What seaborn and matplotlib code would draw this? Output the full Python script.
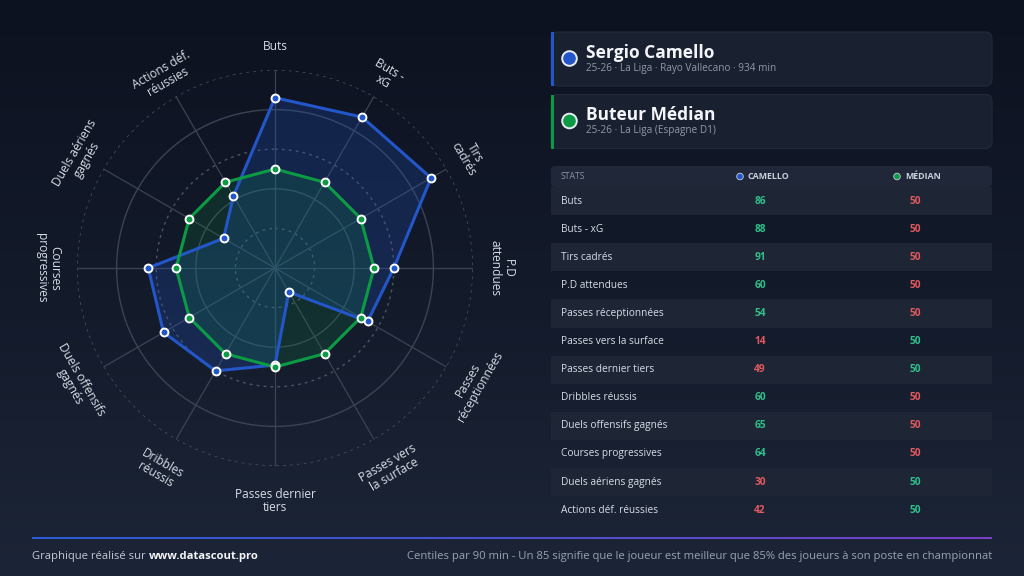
import numpy as np
import pandas as pd
import matplotlib
matplotlib.use("Agg")
import matplotlib.pyplot as plt
import seaborn as sns
from matplotlib.patches import FancyBboxPatch, Rectangle, Circle
from matplotlib.colors import LinearSegmentedColormap

# ---------------- data ----------------
categories = ["Buts", "Buts - xG", "Tirs cadrés", "P.D attendues", "Passes réceptionnées",
              "Passes vers la surface", "Passes dernier tiers", "Dribbles réussis",
              "Duels offensifs gagnés", "Courses progressives", "Duels aériens gagnés",
              "Actions déf. réussies"]
radar_labels = ["Buts", "Buts -\nxG", "Tirs\ncadrés", "P.D\nattendues", "Passes\nréceptionnées",
                "Passes vers\nla surface", "Passes dernier\ntiers", "Dribbles\nréussis",
                "Duels offensifs\ngagnés", "Courses\nprogressives", "Duels aériens\ngagnés",
                "Actions déf.\nréussies"]
camello = [86, 88, 91, 60, 54, 14, 49, 60, 65, 64, 30, 42]
median = [50, 50, 50, 50, 50, 50, 50, 50, 50, 50, 50, 50]

player_name = "Sergio Camello"
player_sub = "25-26 · La Liga · Rayo Vallecano · 934 min"
ref_name = "Buteur Médian"
ref_sub = "25-26 · La Liga (Espagne D1)"
col_headers = ["STATS", "CAMELLO", "MÉDIAN"]
footer_left = "Graphique réalisé sur "
footer_link = "www.datascout.pro"
footer_right = ("Centiles par 90 min - Un 85 signifie que le joueur est meilleur que 85% "
                "des joueurs à son poste en championnat")

# ---------------- style ----------------
sns.set_style("white")
plt.rcParams['font.family'] = ['Open Sans', 'DejaVu Sans']

BLUE = "#2356c8"
GREEN = "#0c9a45"
GOOD = "#2fc08a"
BAD = "#e2595e"
TXT = "#d8dde6"
SUB = "#9099a8"

W, H = 1024, 576
fig = plt.figure(figsize=(W / 100, H / 100), dpi=100)

# overlay axes in pixel coordinates
ov = fig.add_axes([0, 0, 1, 1], zorder=0)
ov.set_xlim(0, W)
ov.set_ylim(H, 0)
ov.axis('off')
bg = LinearSegmentedColormap.from_list('bg', ['#0d1220', '#131a2a', '#1c2537'])
ov.imshow(np.linspace(0, 1, 256).reshape(-1, 1), cmap=bg, extent=[0, W, H, 0],
          aspect='auto', zorder=0)

# ---------------- radar ----------------
cx, cy, R = 275, 268, 198
ax = fig.add_axes([(cx - R) / W, (H - cy - R) / H, 2 * R / W, 2 * R / H],
                  projection='polar', zorder=2)
ax.set_theta_zero_location('N')
ax.set_theta_direction(-1)
ax.patch.set_alpha(0)
ax.grid(False)
ax.set_xticks([])
ax.set_yticks([])
ax.spines['polar'].set_visible(False)

n = len(categories)
theta = np.linspace(0, 2 * np.pi, n, endpoint=False)
tt = np.linspace(0, 2 * np.pi, 400)
for r in [20, 40, 60, 80, 100]:
    if r in (40, 80):
        ax.plot(tt, np.full_like(tt, r), color='#3b4354', lw=1.0, zorder=1)
    else:
        ax.plot(tt, np.full_like(tt, r), color='#4c5466', lw=1.0, ls=(0, (2, 3)), zorder=1)
for th in theta:
    ax.plot([th, th], [0, 100], color='#3b4354', lw=0.9, zorder=1)

th_c = np.append(theta, theta[0])
cam_c = np.append(camello, camello[0])
med_c = np.append(median, median[0])

ax.fill(th_c, cam_c, color=BLUE, alpha=0.24, lw=0, zorder=2)
sns.lineplot(x=th_c, y=cam_c, ax=ax, sort=False, estimator=None, color=BLUE, lw=2.2, zorder=4)
ax.fill(th_c, med_c, color=GREEN, alpha=0.17, lw=0, zorder=3)
sns.lineplot(x=th_c, y=med_c, ax=ax, sort=False, estimator=None, color=GREEN, lw=2.2, zorder=5)
sns.scatterplot(x=theta, y=camello, ax=ax, s=32, color=BLUE, edgecolor='white',
                linewidth=1.4, zorder=6)
sns.scatterplot(x=theta, y=median, ax=ax, s=32, color=GREEN, edgecolor='white',
                linewidth=1.4, zorder=7)
ax.set_xlabel('')
ax.set_ylabel('')
ax.set_ylim(0, 100)

for th, lab in zip(theta, radar_labels):
    deg = np.degrees(th)
    if deg <= 90:
        rot = -deg
    elif deg <= 270:
        rot = 180 - deg
    else:
        rot = 360 - deg
    r_lab = (227 - 6 * np.cos(th)) / R * 100
    ax.text(th, r_lab, lab, rotation=rot, rotation_mode='anchor', ha='center', va='center',
            multialignment='center', fontsize=8.6, color=TXT, linespacing=1.05, zorder=8)

# ---------------- cards ----------------
cards = [(32, player_name, player_sub, BLUE), (94.5, ref_name, ref_sub, GREEN)]
for y0, name, sub, col in cards:
    ov.add_patch(FancyBboxPatch((551, y0), 441, 54, boxstyle="round,pad=0,rounding_size=7",
                                fc='#192030', ec='#232b3b', lw=0.8, zorder=1))
    ov.add_patch(Rectangle((550.5, y0), 3, 54, fc=col, ec='none', zorder=2))
    ov.add_patch(Circle((569.5, y0 + 26.5), 7.3, fc=col, ec='#e8ecf2', lw=1.4, zorder=2))
    ov.text(586, y0 + 20.5, name, fontsize=12.5, fontweight='bold', color='#f3f5f9',
            ha='left', va='center', zorder=3)
    ov.text(586, y0 + 36, sub, fontsize=7.2, color=SUB, ha='left', va='center', zorder=3)

# ---------------- table ----------------
ov.add_patch(FancyBboxPatch((551, 166), 441, 21, boxstyle="round,pad=0,rounding_size=4",
                            fc='#1f2738', ec='none', zorder=1))
ov.text(561, 176.5, col_headers[0], fontsize=6.3, color='#8a93a3', ha='left', va='center')
ov.add_patch(Circle((740, 176.5), 3.3, fc=BLUE, ec='#c9d0dc', lw=0.6, zorder=2))
ov.text(747, 176.5, col_headers[1], fontsize=6.4, fontweight='bold', color='#c9d0dc',
        ha='left', va='center')
ov.add_patch(Circle((897, 176.5), 3.3, fc=GREEN, ec='#c9d0dc', lw=0.6, zorder=2))
ov.text(905, 176.5, col_headers[2], fontsize=6.4, fontweight='bold', color='#c9d0dc',
        ha='left', va='center')

row_h = 28.1
for i, (cat, a, b) in enumerate(zip(categories, camello, median)):
    y = 187 + i * row_h
    if i % 2 == 0:
        ov.add_patch(Rectangle((551, y), 441, row_h, fc='#1e2636', ec='none', zorder=1))
    yc = y + row_h / 2
    ov.text(561, yc, cat, fontsize=7.3, color=TXT, ha='left', va='center', zorder=3)
    ov.text(760, yc, str(a), fontsize=7.3, fontweight='bold', color=GOOD if a > b else BAD,
            ha='center', va='center', zorder=3)
    ov.text(915, yc, str(b), fontsize=7.3, fontweight='bold', color=GOOD if b > a else BAD,
            ha='center', va='center', zorder=3)

# ---------------- footer ----------------
lc = LinearSegmentedColormap.from_list('ln', ['#2a5bd6', '#4a4fd0', '#7a40c6'])
ov.imshow(np.linspace(0, 1, 256).reshape(1, -1), cmap=lc, extent=[32, 992, 539.3, 537.3],
          aspect='auto', zorder=2)
t1 = ov.text(32, 556, footer_left, fontsize=8.1, color='#c3c9d3', ha='left', va='center')
fig.canvas.draw()
bb = t1.get_window_extent(renderer=fig.canvas.get_renderer())
ov.text(32 + bb.width, 556, footer_link, fontsize=8.1, fontweight='bold', color='#f3f5f9',
        ha='left', va='center')
ov.text(992, 556, footer_right, fontsize=8.1, color='#9aa2b0', ha='right', va='center')

ov.set_xlim(0, W)
ov.set_ylim(H, 0)
fig.savefig("out.png", dpi=100, facecolor='#0d1220')
